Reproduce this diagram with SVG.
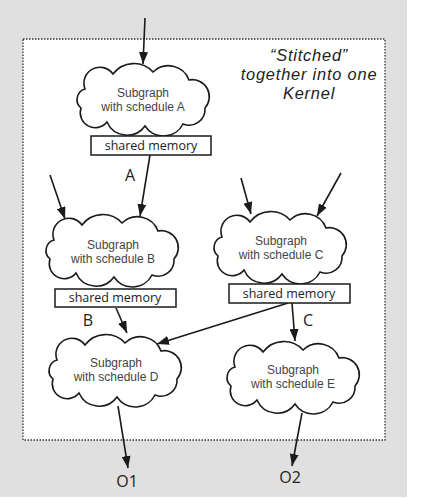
<svg xmlns="http://www.w3.org/2000/svg" xmlns:xlink="http://www.w3.org/1999/xlink" width="425" height="499" viewBox="0 0 425 499">
<style>
.cloud{fill:#fff;stroke:#1a1a1a;stroke-width:1.6}
.ct{font-family:"Liberation Sans",Arial,sans-serif;font-size:12px;fill:#444;text-anchor:middle}
.box{fill:#fff;stroke:#1a1a1a;stroke-width:1.5}
.bt{font-family:"Open Sans","Liberation Sans",sans-serif;font-size:12.5px;fill:#222;text-anchor:middle}
.lbl{font-family:"Open Sans","Liberation Sans",sans-serif;font-size:16px;fill:#222;text-anchor:middle}
.note{font-family:"Liberation Sans",Arial,sans-serif;font-size:16.4px;letter-spacing:0.8px;font-style:italic;fill:#222;text-anchor:middle}
.edge{stroke:#1a1a1a;stroke-width:1.6;fill:none;marker-end:url(#ah)}
</style>
<defs>
<marker id="ah" markerUnits="userSpaceOnUse" markerWidth="12" markerHeight="9" refX="12" refY="4.5" orient="auto">
<path d="M0,0 L12,4.5 L0,9 z" fill="#1a1a1a"/>
</marker>
<path id="cl" d="M12,27 A16,16 0 0 1 40,12 A26,26 0 0 1 80,10 A22,22 0 0 1 116,18 A17,17 0 0 1 132,46 A16,16 0 0 1 110,62 A22,22 0 0 1 72,64 A22,22 0 0 1 34,60 A15,15 0 0 1 8,46 A11,11 0 0 1 12,27 Z"/>
</defs>
<rect x="0" y="0" width="425" height="499" fill="#fff"/>
<rect x="0" y="0" width="407" height="497" fill="#e0e0e0"/>
<rect id="kernel" x="23" y="39" width="362" height="401" fill="#fff" stroke="#333" stroke-width="1.3" stroke-dasharray="1.5 1.5"/>
<g id="note">
<text class="note" x="309" y="61">“Stitched”</text>
<text class="note" x="309" y="80">together into one</text>
<text class="note" x="309" y="99">Kernel</text>
</g>
<g id="connectors">
<line class="edge" x1="145" y1="18" x2="143" y2="64"/>
<line class="edge" x1="150" y1="155" x2="140" y2="216"/>
<line class="edge" x1="50" y1="175" x2="65" y2="219"/>
<line class="edge" x1="241" y1="178" x2="251" y2="214"/>
<line class="edge" x1="341" y1="173" x2="317" y2="216"/>
<line class="edge" x1="116" y1="308" x2="127" y2="333"/>
<line class="edge" x1="288" y1="303" x2="157" y2="344"/>
<line class="edge" x1="292" y1="303" x2="295" y2="341"/>
<line class="edge" x1="118" y1="406" x2="128" y2="468"/>
<line class="edge" x1="302" y1="413" x2="292" y2="466"/>
</g>
<g id="nodeA">
<use href="#cl" class="cloud" x="73" y="62"/>
<text class="ct" x="143" y="97">Subgraph</text>
<text class="ct" x="143" y="111">with schedule A</text>
</g>
<g id="smA">
<rect class="box" x="91" y="136" width="120" height="19"/>
<text class="bt" x="151" y="150">shared memory</text>
</g>
<g id="nodeB">
<use href="#cl" class="cloud" x="42" y="213"/>
<text class="ct" x="113" y="249">Subgraph</text>
<text class="ct" x="113" y="263">with schedule B</text>
</g>
<g id="smB">
<rect class="box" x="55" y="289" width="121" height="18"/>
<text class="bt" x="115" y="302">shared memory</text>
</g>
<g id="nodeC">
<use href="#cl" class="cloud" x="210" y="210"/>
<text class="ct" x="281" y="245">Subgraph</text>
<text class="ct" x="281" y="259">with schedule C</text>
</g>
<g id="smC">
<rect class="box" x="229" y="284" width="121" height="19"/>
<text class="bt" x="289" y="298">shared memory</text>
</g>
<g id="nodeD">
<use href="#cl" class="cloud" x="45" y="333"/>
<text class="ct" x="116" y="367">Subgraph</text>
<text class="ct" x="116" y="381">with schedule D</text>
</g>
<g id="nodeE">
<use href="#cl" class="cloud" x="223" y="340"/>
<text class="ct" x="293" y="374">Subgraph</text>
<text class="ct" x="293" y="388">with schedule E</text>
</g>
<g id="labels">
<text class="lbl" x="130" y="181">A</text>
<text class="lbl" x="88" y="326">B</text>
<text class="lbl" x="308" y="326">C</text>
<text class="lbl" x="127" y="487">O1</text>
<text class="lbl" x="290" y="483">O2</text>
</g>
</svg>
